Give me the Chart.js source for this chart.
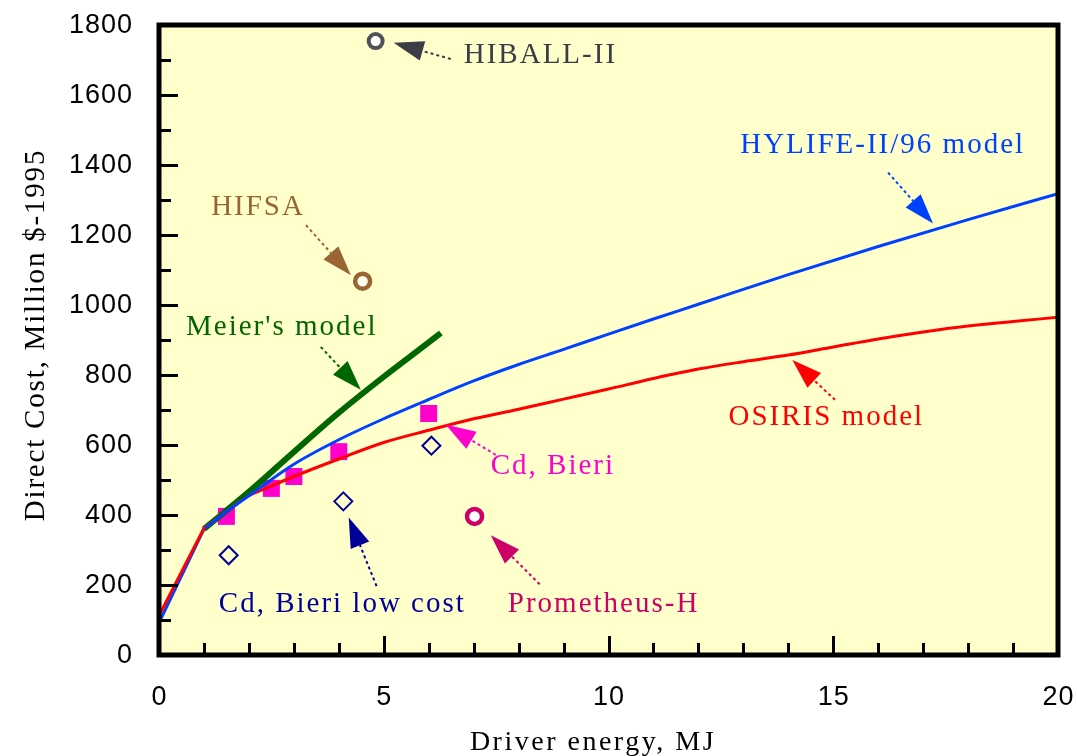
<!DOCTYPE html>
<html><head><meta charset="utf-8">
<script src="https://cdn.jsdelivr.net/npm/chart.js@4.4.0/dist/chart.umd.min.js"></script>
<style>html,body{margin:0;padding:0;background:#fff;}</style>
</head><body>
<canvas id="c" width="1077" height="756"></canvas>
<script>
// ---- data ----
const xTickLabels = [0, 5, 10, 15, 20];
const yTickLabels = [0, 200, 400, 600, 800, 1000, 1200, 1400, 1600, 1800];

const hylifeX = [0, 1, 1.5, 2, 3, 4, 5, 6, 7, 8, 9, 10, 11, 12, 14, 16, 18, 20];
const hylifeY = [92, 360, 410, 455, 545, 615, 675, 730, 783, 830, 873, 917, 960, 1002, 1087, 1167, 1244, 1318];

const osirisX = [0, 1, 1.5, 2, 2.5, 3, 4, 5, 6, 7, 8, 9, 10, 11, 12, 13, 14, 15, 16, 17, 18, 19, 20];
const osirisY = [112, 362, 410, 455, 483, 510, 560, 607, 642, 675, 702, 731, 760, 790, 817, 838, 857, 880, 903, 923, 940, 953, 965];

const meierX = [1, 2, 3, 4, 5, 6, 6.27];
const meierY = [360, 466, 580, 692, 795, 893, 920];

const bieriX = [1.5, 2.5, 3, 4, 6];
const bieriY = [396, 476, 510, 581, 690];

const lowCostX = [1.55, 4.1, 6.06];
const lowCostY = [285, 439, 598];

const hiballX = [4.82], hiballY = [1754];
const hifsaX = [4.53], hifsaY = [1068];
const prometheusX = [7.02], prometheusY = [396];

const labelTexts = ["HIBALL-II", "HYLIFE-II/96 model", "OSIRIS model", "HIFSA", "Meier's model", "Cd, Bieri", "Cd, Bieri low cost", "Prometheus-H"];
const labelX = [6.78, 12.93, 12.67, 1.16, 0.6, 7.38, 1.33, 7.76];
const labelY = [1712, 1455, 678, 1279, 937, 538, 145, 145];

const arrowTailX = [6.49, 16.22, 15.04, 3.27, 3.6, 7.49, 4.84, 8.47];
const arrowTailY = [1703, 1378, 729, 1228, 880, 572, 197, 202];
const arrowTipX = [5.22, 17.22, 14.09, 4.27, 4.49, 6.38, 4.22, 7.38];
const arrowTipY = [1749, 1233, 843, 1085, 758, 658, 393, 342];

const xTitle = "Driver energy, MJ";
const yTitle = "Direct Cost, Million $-1995";

// ---- styles ----
const annColors = ['#3c3c46', '#0040ff', '#ff0000', '#996633', '#006600', '#ff00cc', '#000099', '#cc0066'];

const zip = (xs, ys) => xs.map((x, i) => ({x, y: ys[i]}));

const framePlugin = {
  id: 'frame',
  beforeDraw(chart) {
    const {ctx, chartArea: a} = chart;
    ctx.save();
    ctx.fillStyle = '#ffffff';
    ctx.fillRect(0, 0, chart.width, chart.height);
    ctx.fillStyle = '#ffffcc';
    ctx.fillRect(a.left, a.top, a.right - a.left, a.bottom - a.top);
    ctx.restore();
  },
  afterDatasetsDraw(chart) {
    const {ctx, chartArea: a, scales} = chart;
    const xs = scales.x, ys = scales.y;
    ctx.save();
    // ticks
    ctx.strokeStyle = '#000';
    ctx.lineWidth = 3;
    for (let v = 1; v < 20; v++) {
      const px = Math.round(xs.getPixelForValue(v)) + 0.5;
      const len = v % 5 === 0 ? 19 : 12;
      ctx.beginPath(); ctx.moveTo(px, a.bottom); ctx.lineTo(px, a.bottom - len); ctx.stroke();
    }
    for (let v = 100; v < 1800; v += 100) {
      const py = Math.round(ys.getPixelForValue(v)) + 0.5;
      const len = v % 200 === 0 ? 19 : 12;
      ctx.beginPath(); ctx.moveTo(a.left, py); ctx.lineTo(a.left + len, py); ctx.stroke();
    }
    // frame
    ctx.lineWidth = 5;
    ctx.strokeRect(a.left, a.top, a.right - a.left, a.bottom - a.top);

    // arrows
    for (let i = 0; i < arrowTailX.length; i++) {
      const x1 = xs.getPixelForValue(arrowTailX[i]), y1 = ys.getPixelForValue(arrowTailY[i]);
      const x2 = xs.getPixelForValue(arrowTipX[i]), y2 = ys.getPixelForValue(arrowTipY[i]);
      const dx = x2 - x1, dy = y2 - y1, d = Math.hypot(dx, dy);
      const ux = dx / d, uy = dy / d;
      const L = 30, W = 10;
      const bx = x2 - ux * L, by = y2 - uy * L;
      ctx.strokeStyle = annColors[i];
      ctx.fillStyle = annColors[i];
      ctx.lineWidth = 2;
      ctx.setLineDash([3, 3]);
      ctx.beginPath(); ctx.moveTo(x1, y1); ctx.lineTo(bx, by); ctx.stroke();
      ctx.setLineDash([]);
      ctx.beginPath();
      ctx.moveTo(x2, y2);
      ctx.lineTo(bx - uy * W, by + ux * W);
      ctx.lineTo(bx + uy * W, by - ux * W);
      ctx.closePath();
      ctx.fill();
    }

    // labels
    ctx.font = '29px "Liberation Serif", "DejaVu Serif", serif';
    ctx.letterSpacing = '2px';
    ctx.textAlign = 'left';
    ctx.textBaseline = 'middle';
    for (let i = 0; i < labelTexts.length; i++) {
      ctx.fillStyle = annColors[i];
      ctx.fillText(labelTexts[i], xs.getPixelForValue(labelX[i]), ys.getPixelForValue(labelY[i]));
    }

    // tick labels
    ctx.fillStyle = '#000';
    ctx.font = '27px "Liberation Sans", Arial, sans-serif';
    ctx.letterSpacing = '1px';
    ctx.textAlign = 'center';
    ctx.textBaseline = 'middle';
    xTickLabels.forEach(v => ctx.fillText(String(v), xs.getPixelForValue(v) + 0.5, 698));
    ctx.textAlign = 'right';
    yTickLabels.forEach(v => ctx.fillText(String(v), 133, ys.getPixelForValue(v) + 1));

    // axis titles
    ctx.font = '28px "Liberation Serif", "DejaVu Serif", serif';
    ctx.letterSpacing = '2.5px';
    ctx.textAlign = 'center';
    ctx.textBaseline = 'alphabetic';
    ctx.fillText(xTitle, 593, 750);
    ctx.save();
    ctx.translate(44, 335);
    ctx.rotate(-Math.PI / 2);
    ctx.font = '29px "Liberation Serif", "DejaVu Serif", serif';
    ctx.letterSpacing = '1.8px';
    ctx.fillText(yTitle, 0, 0);
    ctx.restore();
    ctx.restore();
  }
};

const lineBase = {pointRadius: 0, fill: false, borderCapStyle: 'round'};

new Chart(document.getElementById('c'), {
  type: 'line',
  data: {
    datasets: [
      {...lineBase, label: 'OSIRIS model (start)', data: zip(osirisX.slice(0, 2), osirisY.slice(0, 2)), borderColor: '#ff0000', borderWidth: 3, tension: 0},
      {...lineBase, label: 'HYLIFE-II/96 model (start)', data: zip(hylifeX.slice(0, 2), hylifeY.slice(0, 2)), borderColor: '#0040ff', borderWidth: 3, tension: 0},
      {...lineBase, label: 'HYLIFE-II/96 model', data: zip(hylifeX.slice(1), hylifeY.slice(1)), borderColor: '#0040ff', borderWidth: 3, cubicInterpolationMode: 'monotone'},
      {...lineBase, label: 'OSIRIS model', data: zip(osirisX.slice(1), osirisY.slice(1)), borderColor: '#ff0000', borderWidth: 3, cubicInterpolationMode: 'monotone'},
      {...lineBase, label: "Meier's model", data: zip(meierX, meierY), borderColor: '#006600', borderWidth: 6, borderCapStyle: 'butt', cubicInterpolationMode: 'monotone'},
      {label: 'Cd, Bieri', data: zip(bieriX, bieriY), showLine: false, pointStyle: 'rect', pointRadius: 12, pointBackgroundColor: '#ff00cc', pointBorderColor: '#ff00cc', pointBorderWidth: 0},
      {label: 'Cd, Bieri low cost', data: zip(lowCostX, lowCostY), showLine: false, pointStyle: 'rectRot', pointRadius: 9, pointBackgroundColor: 'rgba(0,0,0,0)', pointBorderColor: '#000099', pointBorderWidth: 2},
      {label: 'HIBALL-II', data: zip(hiballX, hiballY), showLine: false, pointStyle: 'circle', pointRadius: 7, pointBackgroundColor: '#ffffff', pointBorderColor: '#505058', pointBorderWidth: 4},
      {label: 'HIFSA', data: zip(hifsaX, hifsaY), showLine: false, pointStyle: 'circle', pointRadius: 7.5, pointBackgroundColor: '#ffffee', pointBorderColor: '#996633', pointBorderWidth: 4.5},
      {label: 'Prometheus-H', data: zip(prometheusX, prometheusY), showLine: false, pointStyle: 'circle', pointRadius: 7.5, pointBackgroundColor: '#ffffff', pointBorderColor: '#cc0066', pointBorderWidth: 4.5}
    ]
  },
  options: {
    responsive: false,
    animation: false,
    devicePixelRatio: 1,
    layout: {padding: {top: 25, right: 19, left: 0, bottom: 0}},
    plugins: {legend: {display: false}, tooltip: {enabled: false}},
    scales: {
      x: {type: 'linear', min: 0, max: 20, grid: {display: false}, border: {display: false}, ticks: {display: false},
          afterFit(s) { s.height = 101; }},
      y: {type: 'linear', min: 0, max: 1800, grid: {display: false}, border: {display: false}, ticks: {display: false},
          afterFit(s) { s.width = 159; }}
    }
  },
  plugins: [framePlugin]
});
</script>
</body></html>
